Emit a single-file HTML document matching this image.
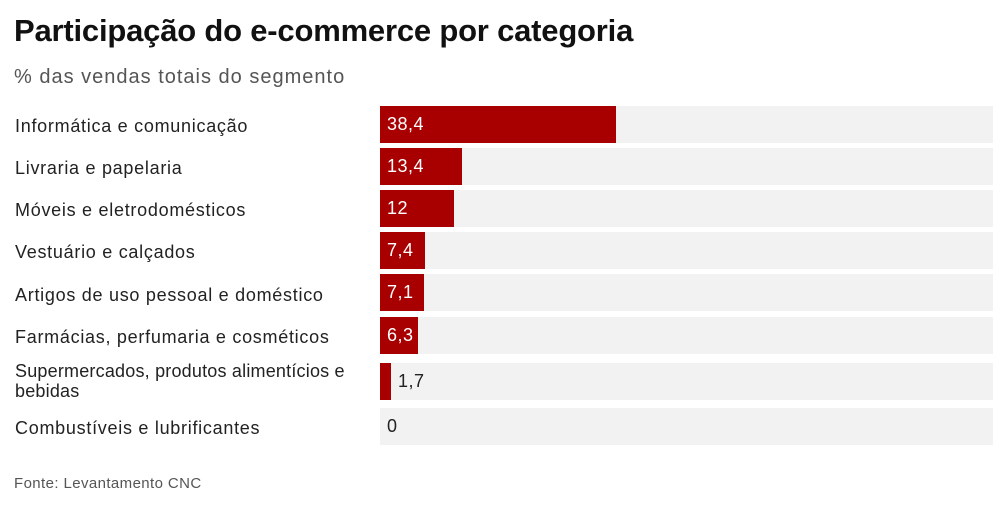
<!DOCTYPE html>
<html><head><meta charset="utf-8"><style>
body{margin:0;width:1008px;height:509px;background:#fff;font-family:"Liberation Sans",sans-serif;position:relative;overflow:hidden}
.t{position:absolute;left:14px;top:13px;font-size:31px;font-weight:bold;color:#111;letter-spacing:-0.2px}
.s{position:absolute;left:14px;top:66px;font-size:20px;color:#555;letter-spacing:1px}
.l{position:absolute;left:15px;font-size:18px;color:#222;line-height:20px;letter-spacing:0.72px}
.tr{position:absolute;left:380px;width:613px;height:37px;background:#f2f2f2}
.b{position:absolute;left:0;top:0;height:37px;background:#a80000}
.v{position:absolute;top:0;line-height:37px;font-size:18px;letter-spacing:0.5px}
.f{position:absolute;left:14px;top:475px;font-size:15px;color:#555;letter-spacing:0.4px}
</style></head><body>
<div class="t">Participação do e-commerce por categoria</div>
<div class="s">% das vendas totais do segmento</div>

<div class="l" style="top:116px">Informática e comunicação</div>
<div class="tr" style="top:106px"><div class="b" style="width:236px"></div><div class="v" style="left:7px;color:#fff">38,4</div></div>

<div class="l" style="top:158px">Livraria e papelaria</div>
<div class="tr" style="top:148px"><div class="b" style="width:82px"></div><div class="v" style="left:7px;color:#fff">13,4</div></div>

<div class="l" style="top:200px">Móveis e eletrodomésticos</div>
<div class="tr" style="top:190px"><div class="b" style="width:74px"></div><div class="v" style="left:7px;color:#fff">12</div></div>

<div class="l" style="top:242px">Vestuário e calçados</div>
<div class="tr" style="top:232px"><div class="b" style="width:45px"></div><div class="v" style="left:7px;color:#fff">7,4</div></div>

<div class="l" style="top:285px">Artigos de uso pessoal e doméstico</div>
<div class="tr" style="top:274px"><div class="b" style="width:44px"></div><div class="v" style="left:7px;color:#fff">7,1</div></div>

<div class="l" style="top:327px">Farmácias, perfumaria e cosméticos</div>
<div class="tr" style="top:317px"><div class="b" style="width:38px"></div><div class="v" style="left:7px;color:#fff">6,3</div></div>

<div class="l" style="top:361px;letter-spacing:0.2px">Supermercados, produtos alimentícios e<br>bebidas</div>
<div class="tr" style="top:363px"><div class="b" style="width:11px"></div><div class="v" style="left:18px;color:#222">1,7</div></div>

<div class="l" style="top:418px">Combustíveis e lubrificantes</div>
<div class="tr" style="top:408px"><div class="v" style="left:7px;color:#222">0</div></div>

<div class="f">Fonte: Levantamento CNC</div>
</body></html>
